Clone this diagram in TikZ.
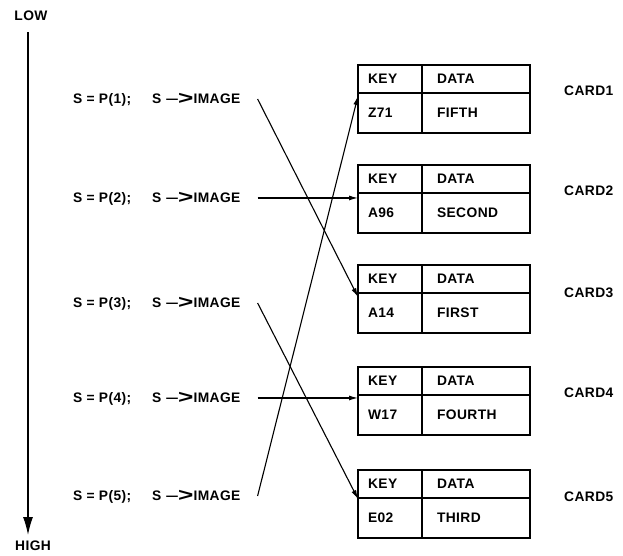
\documentclass[tikz,border=0pt]{standalone}
\usepackage{fontspec}
\setmainfont{Liberation Sans}[LetterSpace=3]
\usetikzlibrary{positioning,arrows.meta}
\newcommand{\ptrsym}{\scalebox{1.7}[1]{--}\kern-0.5pt\raisebox{-1.6pt}{\scalebox{1.9}[1.35]{>}}}
\tikzset{
  ptrarrow/.style={-{Latex[length=9pt,width=5pt]}, line width=1.1pt},
  axisarrow/.style={-{Latex[length=18pt,width=10pt]}, line width=1.3pt},
  cell/.style={draw, line width=1.7pt, outer sep=0pt, inner ysep=0pt, align=left},
  keycell/.style={cell, text width=44pt, inner xsep=10pt},
  datacell/.style={cell, text width=78pt, inner xsep=15pt},
  headrow/.style={minimum height=28pt},
  bodyrow/.style={minimum height=40pt},
  stmt/.style={anchor=base west, inner sep=0pt},
  cardlabel/.style={anchor=west, inner sep=0pt}
}

\begin{document}
\begin{tikzpicture}[x=1pt, y=-1pt, every node/.style={font=\bfseries\fontsize{13.8}{15}\selectfont}]
  \useasboundingbox (0,0) rectangle (623,555);
  % ordering axis
  \node (low) at (31,16) {LOW};
  \node (high) at (33,546) {HIGH};
  \coordinate (axtop) at (28,32);
  \coordinate (axbot) at (28,535);
  \draw[axisarrow] (axtop) -- (axbot);

  % pointer statements
  \node[stmt] (p1) at (73,103) {S = P(1);};
  \node[stmt] (m1) at (152,103) {S \ptrsym IMAGE};
  \node[stmt] (p2) at (73,202) {S = P(2);};
  \node[stmt] (m2) at (152,202) {S \ptrsym IMAGE};
  \node[stmt] (p3) at (73,307) {S = P(3);};
  \node[stmt] (m3) at (152,307) {S \ptrsym IMAGE};
  \node[stmt] (p4) at (73,402) {S = P(4);};
  \node[stmt] (m4) at (152,402) {S \ptrsym IMAGE};
  \node[stmt] (p5) at (73,500) {S = P(5);};
  \node[stmt] (m5) at (152,500) {S \ptrsym IMAGE};

  % cards
  \node[keycell, headrow, anchor=north west] (c1kh) at (358,65) {KEY};
  \node[datacell, headrow, right=0pt of c1kh] (c1dh) {DATA};
  \node[keycell, bodyrow, below=0pt of c1kh] (c1k) {Z71};
  \node[datacell, bodyrow, right=0pt of c1k] (c1d) {FIFTH};
  \node[cardlabel] (card1) at (564,91) {CARD1};

  \node[keycell, headrow, anchor=north west] (c2kh) at (358,165) {KEY};
  \node[datacell, headrow, right=0pt of c2kh] (c2dh) {DATA};
  \node[keycell, bodyrow, below=0pt of c2kh] (c2k) {A96};
  \node[datacell, bodyrow, right=0pt of c2k] (c2d) {SECOND};
  \node[cardlabel] (card2) at (564,191) {CARD2};

  \node[keycell, headrow, anchor=north west] (c3kh) at (358,265) {KEY};
  \node[datacell, headrow, right=0pt of c3kh] (c3dh) {DATA};
  \node[keycell, bodyrow, below=0pt of c3kh] (c3k) {A14};
  \node[datacell, bodyrow, right=0pt of c3k] (c3d) {FIRST};
  \node[cardlabel] (card3) at (564,293) {CARD3};

  \node[keycell, headrow, anchor=north west] (c4kh) at (358,367) {KEY};
  \node[datacell, headrow, right=0pt of c4kh] (c4dh) {DATA};
  \node[keycell, bodyrow, below=0pt of c4kh] (c4k) {W17};
  \node[datacell, bodyrow, right=0pt of c4k] (c4d) {FOURTH};
  \node[cardlabel] (card4) at (564,393) {CARD4};

  \node[keycell, headrow, anchor=north west] (c5kh) at (358,470) {KEY};
  \node[datacell, headrow, right=0pt of c5kh] (c5dh) {DATA};
  \node[keycell, bodyrow, below=0pt of c5kh] (c5k) {E02};
  \node[datacell, bodyrow, right=0pt of c5k] (c5d) {THIRD};
  \node[cardlabel] (card5) at (564,497) {CARD5};

  % pointers
  \draw[ptrarrow] ([xshift=17pt]m1.east) -- ([yshift=-4pt]c3k.north west);
  \draw[ptrarrow] ([xshift=17pt]m2.east) -- (m2.east -| c2k.west);
  \draw[ptrarrow] ([xshift=17pt]m3.east) -- ([yshift=-1pt]c5k.north west);
  \draw[ptrarrow] ([xshift=17pt]m4.east) -- (m4.east -| c4k.west);
  \draw[ptrarrow] ([xshift=17pt]m5.east) -- ([yshift=-3pt]c1k.north west);
\end{tikzpicture}
\end{document}
